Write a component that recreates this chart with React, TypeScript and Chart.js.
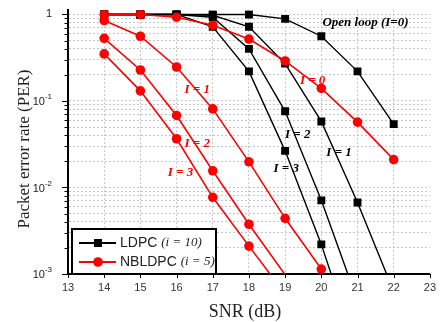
import React, { useEffect, useRef } from 'react';
import { Chart, registerables } from 'chart.js';

Chart.register(...registerables);

// ---- data ----
const snr = [14, 15, 16, 17, 18, 19, 20, 21, 22];

const ldpcOpenLoop = [1, 1, 1, 1, 1, 0.89, 0.56, 0.22, 0.054];
const ldpcI1 = [1, 1, 1, 0.98, 0.72, 0.27, 0.058, 0.0067, 0.00063];
const ldpcI2 = [1, 1, 1, 0.93, 0.4, 0.076, 0.0071, 0.00049, null];
const ldpcI3 = [1, 1, 1, 0.72, 0.22, 0.0265, 0.0022, 0.00012, null];

const nbI0 = [1, 1, 0.93, 0.75, 0.52, 0.29, 0.14, 0.057, 0.021];
const nbI1 = [0.85, 0.56, 0.247, 0.081, 0.0198, 0.0044, 0.00114, null, null];
const nbI2 = [0.53, 0.228, 0.068, 0.0156, 0.00376, 0.00098, null, null, null];
const nbI3 = [0.35, 0.131, 0.0366, 0.0077, 0.0021, 0.00059, null, null, null];

const xTickValues = [13, 14, 15, 16, 17, 18, 19, 20, 21, 22, 23];
const yMajorTicks = [1, 0.1, 0.01, 0.001];
const yTickExponents = ['', '-1', '-2', '-3'];
const yMinorMultipliers = [2, 3, 4, 5, 6, 7, 8, 9];

const legendItems = [
  { name: 'LDPC', note: '(i = 10)', color: '#000000', marker: 'rect' },
  { name: 'NBLDPC', note: '(i = 5)', color: '#ff0000', marker: 'circle' },
];

const curveLabels = [
  { text: 'Open loop (I=0)', color: '#000000', x: 21.22, y: 0.795 },
  { text: 'I = 0', color: '#ff0000', x: 19.76, y: 0.172 },
  { text: 'I = 1', color: '#ff0000', x: 16.57, y: 0.136 },
  { text: 'I = 2', color: '#ff0000', x: 16.57, y: 0.0318 },
  { text: 'I = 3', color: '#ff0000', x: 16.11, y: 0.0148 },
  { text: 'I = 2', color: '#000000', x: 19.35, y: 0.0404 },
  { text: 'I = 1', color: '#000000', x: 20.49, y: 0.0251 },
  { text: 'I = 3', color: '#000000', x: 19.03, y: 0.0165 },
];

const SERIF = '"Liberation Serif", "Times New Roman", serif';
const SANS = '"Liberation Sans", Arial, sans-serif';

const RED = '#ff0000';
const BLACK = '#000000';
const GRID = '#c6c6c6';

function buildYTicks() {
  const out: { value: number; major: boolean }[] = [];
  for (const m of yMajorTicks) {
    out.push({ value: m, major: true });
    if (m < 1) {
      for (const k of yMinorMultipliers) out.push({ value: m * k, major: false });
    }
  }
  return out.sort((a, b) => a.value - b.value);
}

const hideBelow = (r: number) => (ctx: any) => {
  const v = ctx.parsed ? ctx.parsed.y : null;
  return v != null && v < 0.001 ? 0 : r;
};

function redSet(data: (number | null)[]) {
  return {
    data,
    borderColor: RED,
    backgroundColor: RED,
    borderWidth: 1.6,
    pointStyle: 'circle',
    pointRadius: hideBelow(4.8),
    pointBorderWidth: 0,
    pointBackgroundColor: RED,
    tension: 0,
    spanGaps: false,
  };
}

function blackSet(data: (number | null)[]) {
  return {
    data,
    borderColor: BLACK,
    backgroundColor: BLACK,
    borderWidth: 1.4,
    pointStyle: 'rect',
    pointRadius: hideBelow(5.6),
    pointBorderWidth: 0,
    pointBackgroundColor: BLACK,
    tension: 0,
    spanGaps: false,
  };
}

const decorPlugin = {
  id: 'decor',
  afterDraw(chart: any) {
    const { ctx, chartArea, scales } = chart;
    const x = scales.x;
    const y = scales.y;
    ctx.save();

    // axis tick marks
    ctx.strokeStyle = '#000';
    ctx.lineWidth = 1;
    for (const t of buildYTicks()) {
      const py = Math.round(y.getPixelForValue(t.value)) + 0.5;
      const len = t.major ? 6 : 3.5;
      ctx.beginPath();
      ctx.moveTo(chartArea.left - len, py);
      ctx.lineTo(chartArea.left, py);
      ctx.stroke();
    }
    for (const v of xTickValues) {
      const px = Math.round(x.getPixelForValue(v)) + 0.5;
      ctx.beginPath();
      ctx.moveTo(px, chartArea.bottom);
      ctx.lineTo(px, chartArea.bottom + 4);
      ctx.stroke();
    }

    // y tick labels with superscripts
    ctx.fillStyle = '#222';
    ctx.textBaseline = 'middle';
    yMajorTicks.forEach((v, i) => {
      const py = y.getPixelForValue(v);
      const right = chartArea.left - 16;
      const exp = yTickExponents[i];
      if (!exp) {
        ctx.font = `11px ${SANS}`;
        ctx.textAlign = 'right';
        ctx.fillText('1', right, py);
      } else {
        ctx.font = `8px ${SANS}`;
        const ew = ctx.measureText(exp).width;
        ctx.textAlign = 'left';
        ctx.fillText(exp, right - ew, py - 4);
        ctx.font = `11px ${SANS}`;
        ctx.textAlign = 'right';
        ctx.fillText('10', right - ew, py + 1);
      }
    });

    // axis titles
    ctx.fillStyle = '#222';
    ctx.font = `18px ${SERIF}`;
    ctx.textAlign = 'center';
    ctx.textBaseline = 'middle';
    ctx.fillText('SNR (dB)', (chartArea.left + chartArea.right) / 2 - 4, 312);
    ctx.save();
    ctx.translate(25, 149);
    ctx.rotate(-Math.PI / 2);
    ctx.font = `17px ${SERIF}`;
    ctx.fillText('Packet error rate (PER)', 0, 0);
    ctx.restore();

    // curve labels
    ctx.font = `italic bold 13px ${SERIF}`;
    ctx.textAlign = 'center';
    ctx.textBaseline = 'middle';
    for (const l of curveLabels) {
      ctx.fillStyle = l.color;
      ctx.fillText(l.text, x.getPixelForValue(l.x), y.getPixelForValue(l.y));
    }

    // legend
    const bx = chartArea.left + 4;
    const bw = 144;
    const bh = 45;
    const by = chartArea.bottom - bh;
    ctx.fillStyle = '#fff';
    ctx.fillRect(bx, by, bw, bh);
    ctx.strokeStyle = '#000';
    ctx.lineWidth = 2;
    ctx.strokeRect(bx, by, bw, bh);
    legendItems.forEach((it, i) => {
      const cy = by + 14 + i * 19;
      ctx.strokeStyle = it.color;
      ctx.fillStyle = it.color;
      ctx.lineWidth = 2;
      ctx.beginPath();
      ctx.moveTo(bx + 7, cy);
      ctx.lineTo(bx + 44, cy);
      ctx.stroke();
      const mx = bx + 26;
      if (it.marker === 'rect') {
        ctx.fillRect(mx - 4, cy - 4, 8, 8);
      } else {
        ctx.beginPath();
        ctx.arc(mx, cy, 4.8, 0, Math.PI * 2);
        ctx.fill();
      }
      ctx.fillStyle = '#222';
      ctx.textAlign = 'left';
      ctx.textBaseline = 'middle';
      ctx.font = `14px ${SANS}`;
      const tx = bx + 48;
      ctx.fillText(it.name, tx, cy);
      const nw = ctx.measureText(it.name + ' ').width;
      ctx.font = `italic 13px ${SERIF}`;
      ctx.fillText(it.note, tx + nw, cy);
    });

    ctx.restore();
  },
};

export default function App() {
  const ref = useRef<HTMLCanvasElement | null>(null);

  useEffect(() => {
    if (!ref.current) return;
    const chart = new Chart(ref.current, {
      type: 'line',
      data: {
        labels: snr,
        datasets: [
          redSet(nbI0),
          redSet(nbI1),
          redSet(nbI2),
          redSet(nbI3),
          blackSet(ldpcOpenLoop),
          blackSet(ldpcI1),
          blackSet(ldpcI2),
          blackSet(ldpcI3),
        ].map((d) => ({ ...d, data: d.data.map((v, i) => ({ x: snr[i], y: v })) })) as any,
      },
      options: {
        animation: false,
        responsive: false,
        maintainAspectRatio: false,
        layout: { padding: { top: 8, right: 5, left: 0, bottom: 0 } },
        plugins: { legend: { display: false }, tooltip: { enabled: false } },
        scales: {
          x: {
            type: 'linear',
            min: 13,
            max: 23,
            afterFit: (s: any) => {
              s.height = 48;
            },
            ticks: {
              stepSize: 1,
              padding: 7,
              color: '#333',
              font: { family: SANS, size: 11 },
            },
            grid: {
              drawTicks: false,
              color: (c: any) =>
                c.tick && (c.tick.value === 13 || c.tick.value === 23) ? 'rgba(0,0,0,0)' : GRID,
              lineWidth: 1,
            },
            border: { display: true, color: '#000', width: 2, dash: [2, 2] },
          } as any,
          y: {
            type: 'logarithmic',
            min: 0.001,
            max: 1.12,
            afterFit: (s: any) => {
              s.width = 68;
            },
            afterBuildTicks: (s: any) => {
              s.ticks = buildYTicks();
            },
            ticks: { callback: () => '', autoSkip: false },
            grid: {
              drawTicks: false,
              color: GRID,
              lineWidth: 1,
            },
            border: { display: true, color: '#000', width: 2, dash: [2, 2] },
          } as any,
        },
      },
      plugins: [decorPlugin],
    });
    return () => chart.destroy();
  }, []);

  return (
    <div style={{ position: 'fixed', left: 0, top: 0, width: 443, height: 322, background: '#fff' }}>
      <canvas ref={ref} width={443} height={322} style={{ width: 443, height: 322 }} />
    </div>
  );
}
